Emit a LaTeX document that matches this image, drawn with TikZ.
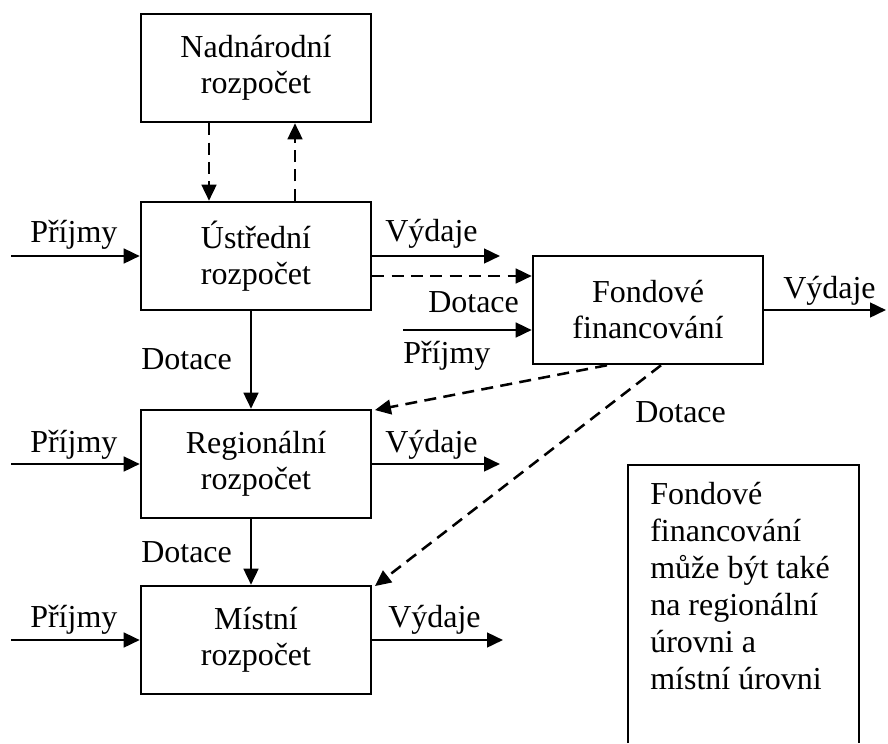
\documentclass[tikz,border=0pt]{standalone}
\usepackage{fontspec}
\setmainfont{Liberation Serif}
\usetikzlibrary{arrows.meta}
\begin{document}
\begin{tikzpicture}[x=0.75pt,y=-0.75pt,
  font=\fontsize{24}{27}\selectfont,
  box/.style={draw, line width=1.9pt, minimum width=172.5pt, minimum height=81pt, align=center, inner sep=0pt},
  lbl/.style={inner sep=0pt, anchor=base west},
  arr/.style={line width=1.9pt, -{Triangle[length=12pt,width=11pt]}},
  dsh/.style={arr, dash pattern=on 9pt off 5.5pt}]
\useasboundingbox (0,0) rectangle (888,743);
% boxes
\node[box] (nad) at (256,68) {Nadnárodní\\rozpočet};
\node[box] (ustr) at (256,256) {Ústřední\\rozpočet};
\node[box] (reg) at (256,464) {Regionální\\rozpočet};
\node[box] (mist) at (256,640) {Místní\\rozpočet};
\node[box] (fond) at (648,310) {Fondové\\financování};
% free ends
\coordinate (pu) at (11,256);
\coordinate (pr) at (11,464);
\coordinate (pm) at (11,640);
\coordinate (vu) at (500,256);
\coordinate (vr) at (500,464);
\coordinate (vm) at (503,640);
\coordinate (vf) at (886,310);
\coordinate (pf) at (403,330);
% connectors
\draw[dsh] ([xshift=-35.25pt]nad.south) -- ([xshift=-35.25pt]ustr.north);
\draw[dsh] ([xshift=29.25pt]ustr.north) -- ([xshift=29.25pt]nad.south);
\draw[arr] (pu) -- (ustr.west);
\draw[arr] (ustr.east) -- (vu);
\draw[dsh] ([yshift=-15pt]ustr.east) -- ([yshift=-15pt]ustr.east -| fond.west);
\draw[arr] (pf) -- (pf -| fond.west);
\draw[arr] (fond.east) -- (vf);
\draw[arr] ([xshift=-3.75pt]ustr.south) -- ([xshift=-3.75pt]reg.north);
\draw[arr] ([xshift=-3.75pt]reg.south) -- ([xshift=-3.75pt]mist.north);
\draw[arr] (pr) -- (reg.west);
\draw[arr] (reg.east) -- (vr);
\draw[arr] (pm) -- (mist.west);
\draw[arr] (mist.east) -- (vm);
\draw[dsh] ([xshift=-30.75pt]fond.south) -- ([xshift=2pt,yshift=-1pt]reg.north east);
\draw[dsh] ([xshift=9.75pt]fond.south) -- ([xshift=2pt,yshift=-1pt]mist.north east);
% labels
\node[lbl] (l1) at (30,242) {Příjmy};
\node[lbl] (l2) at (30,452) {Příjmy};
\node[lbl] (l3) at (30,627) {Příjmy};
\node[lbl] (l4) at (385,241) {Výdaje};
\node[lbl] (l5) at (385,452) {Výdaje};
\node[lbl] (l6) at (388,627) {Výdaje};
\node[lbl] (l7) at (428,312) {Dotace};
\node[lbl] (l8) at (403,363) {Příjmy};
\node[lbl] (l9) at (141,369) {Dotace};
\node[lbl] (l10) at (141,562) {Dotace};
\node[lbl] (l11) at (783,298) {Výdaje};
\node[lbl] (l12) at (635,422) {Dotace};
% note box
\draw[line width=1.9pt] (628,743) -- (628,465) -- (859,465) -- (859,743);
\node[inner sep=0pt, anchor=north west, align=left, font=\fontsize{24}{27.75}\selectfont] (note) at (650,482)
  {Fondové\\financování\\může být také\\na regionální\\úrovni a\\místní úrovni};
\end{tikzpicture}
\end{document}
